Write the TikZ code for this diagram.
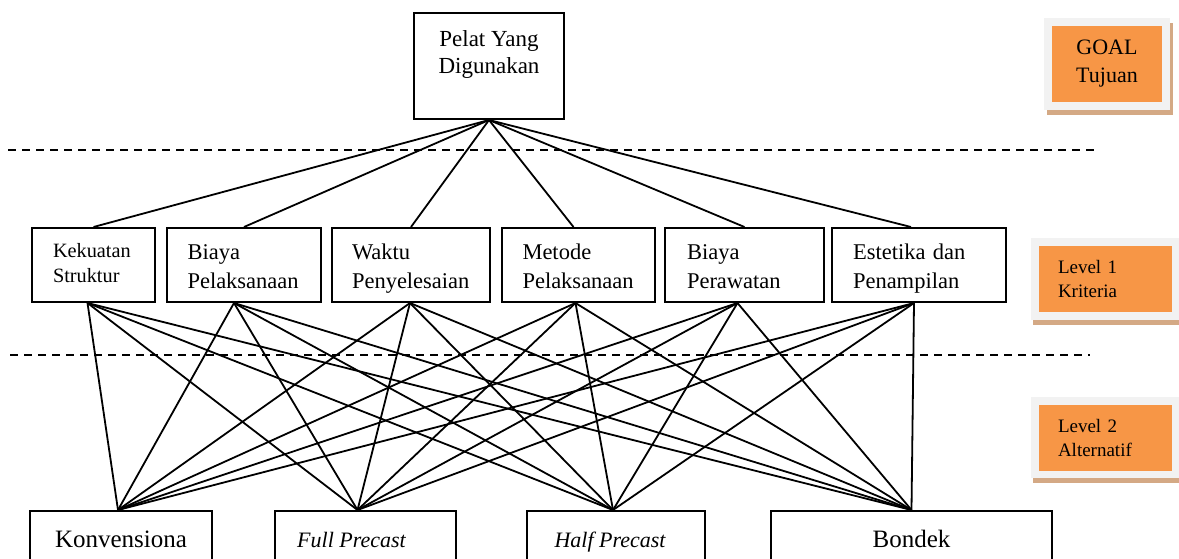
\documentclass[tikz,border=0pt]{standalone}
\usepackage{fontspec}
\setmainfont{Liberation Serif}
\definecolor{tagorange}{HTML}{F79646}
\definecolor{taggray}{HTML}{F2F2F2}
\definecolor{tagtan}{HTML}{D4A985}
\begin{document}
\begin{tikzpicture}[x=1pt,y=-1pt,
  box/.style={draw=black, line width=2pt, inner sep=0pt},
  crit/.style={box, anchor=north west, align=left, inner xsep=20pt, inner ysep=6pt,
    font=\fontsize{22.5}{29}\selectfont, text height=25pt, text depth=37pt, text width=#1},
  alt/.style={box, anchor=north, align=center, inner ysep=6pt,
    font=\fontsize{25}{30}\selectfont, text height=30pt, text depth=30pt, minimum width=#1},
  link/.style={line width=1.8pt},
  sep/.style={line width=2pt, dash pattern=on 8pt off 6pt},
  tag/.style={fill=tagorange, inner sep=0pt, minimum width=#1},
]
\useasboundingbox (0,0) rectangle (1179,558);
\clip (0,0) rectangle (1179,558);

% level separators
\draw[sep] (8,150) -- (1095,150);
\draw[sep] (10,355) -- (1090,355);

% goal
\node[box, anchor=north, minimum width=150pt, align=center, inner ysep=6pt,
  text height=54pt, text depth=40pt, font=\fontsize{23}{27}\selectfont]
  (goal) at (489,12) {Pelat Yang\\Digunakan};

% criteria
\node[crit=81pt, inner xsep=21pt, font=\fontsize{20.3}{25}\selectfont, text height=23pt, text depth=39pt]
  (k1) at (31,227) {Kekuatan\\Struktur};
\node[crit=113pt, inner xsep=20.5pt] (k2) at (166,227) {Biaya\\Pelaksanaan};
\node[crit=118pt, inner xsep=20pt] (k3) at (331,227) {Waktu\\Penyelesaian};
\node[crit=112pt, inner xsep=20.5pt] (k4) at (501,227) {Metode\\Pelaksanaan};
\node[crit=115pt, inner xsep=22pt] (k5) at (664,227) {Biaya\\Perawatan};
\node[crit=132pt, inner xsep=21pt] (k6) at (831,227) {Estetika dan\\Penampilan};

% alternatives
\node[alt=182pt] (a1) at (121,510) {Konvensiona};
\node[alt=181pt, font=\fontsize{22}{30}\selectfont\itshape] (a2) at (365.5,510) {Full Precast\hspace*{28pt}};
\node[alt=178pt, font=\fontsize{22}{30}\selectfont\itshape] (a3) at (616,510) {Half Precast\hspace*{12pt}};
\node[alt=281pt] (a4) at (911.5,510) {Bondek};

% goal to criteria
\foreach \k/\s in {k1/0,k2/0,k3/0,k4/-5,k5/0,k6/-8}
  \draw[link] (goal.south) -- ([xshift=\s pt]\k.north);

% criteria to alternatives
\foreach \k/\s in {k1/-6,k2/-10,k3/-1,k4/-3,k5/-7,k6/-5}
  \foreach \a/\t in {a1/-3,a2/-8,a3/-3,a4/0}
    \draw[link] ([xshift=\s pt]\k.south) -- ([xshift=\t pt]\a.north);

% side labels
\fill[tagtan] (1047,23) rectangle (1173,115);
\fill[taggray] (1044,18) rectangle (1170,110);
\node[tag=110pt, minimum height=76pt, align=center, font=\fontsize{22}{28}\selectfont]
  (tgoal) at (1107,64) {GOAL\\Tujuan};

\fill[tagtan] (1033,243) rectangle (1185,325);
\fill[taggray] (1031,238) rectangle (1182,320);
\node[tag=133pt, minimum height=66pt, align=left, text width=95pt, inner xsep=19pt,
  font=\fontsize{19}{24}\selectfont] (tlev1) at (1105.5,279) {Level 1\\Kriteria};

\fill[tagtan] (1033,402) rectangle (1185,483);
\fill[taggray] (1031,397) rectangle (1182,478);
\node[tag=133pt, minimum height=66pt, align=left, text width=95pt, inner xsep=19pt,
  font=\fontsize{19}{24}\selectfont] (tlev2) at (1105.5,438) {Level 2\\Alternatif};
\end{tikzpicture}
\end{document}
